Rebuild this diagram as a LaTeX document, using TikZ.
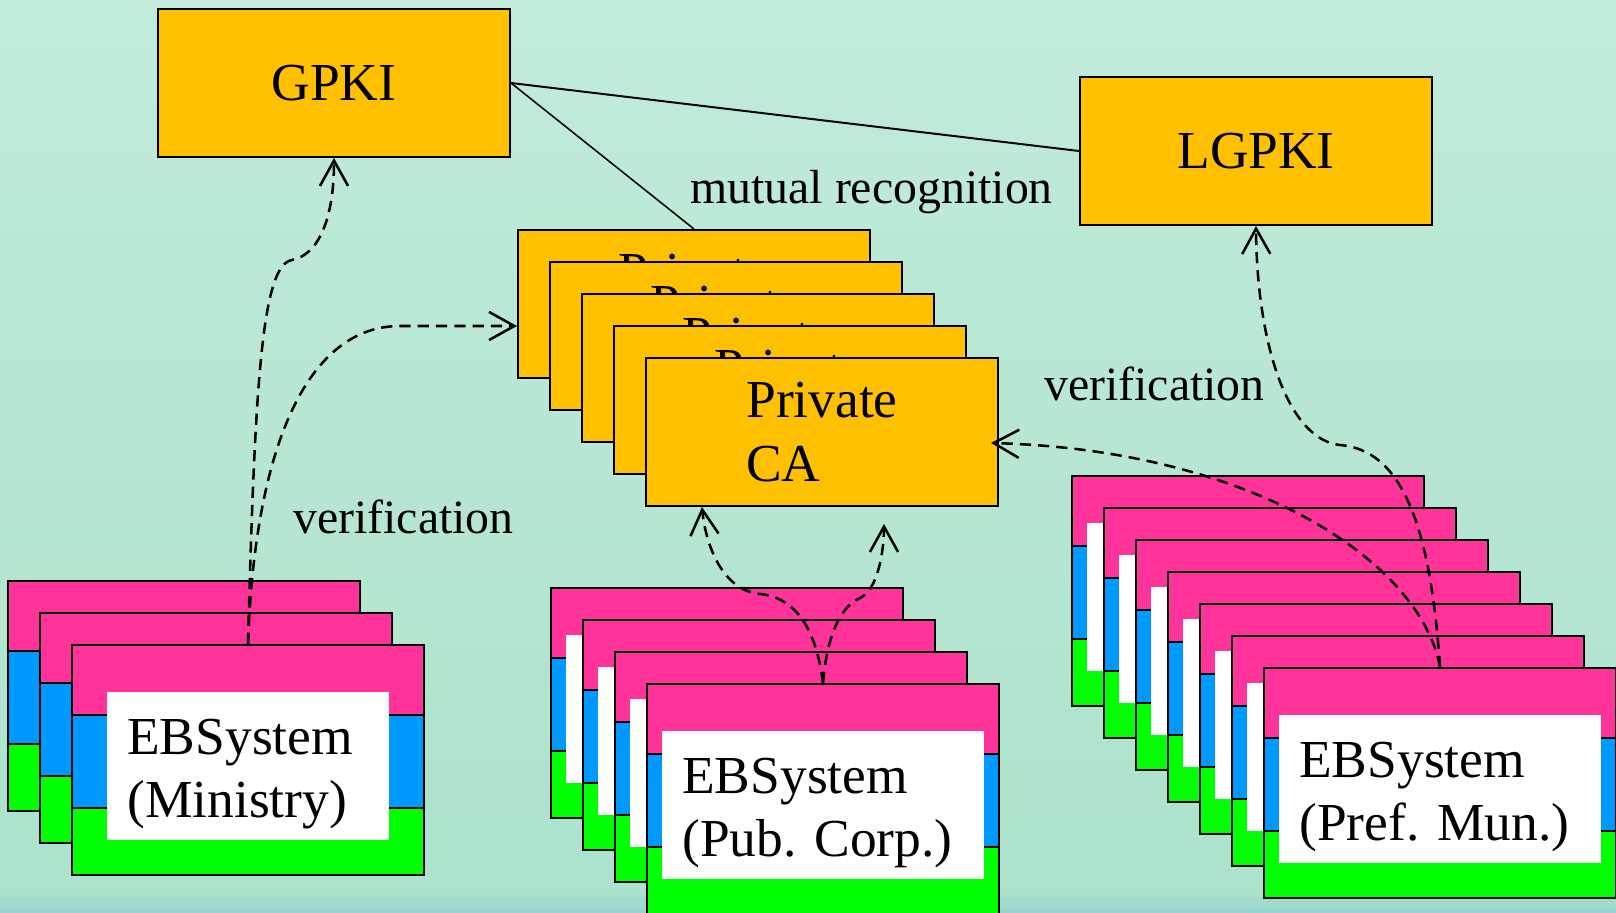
\documentclass[tikz,border=0pt]{standalone}
\usepackage{fontspec}
\setmainfont{Liberation Serif}
\usetikzlibrary{arrows.meta}

\definecolor{pkiorange}{RGB}{255,192,0}
\definecolor{ebpink}{RGB}{255,51,153}
\definecolor{ebblue}{RGB}{0,153,255}
\definecolor{ebgreen}{RGB}{0,255,0}
\definecolor{bgtop}{RGB}{194,235,219}
\definecolor{bgbot}{RGB}{172,226,204}
\definecolor{bgstrip}{RGB}{160,219,205}
\definecolor{bgedge}{RGB}{150,212,207}

% one EB system card: name, x, y (top left), label inset, text
\newcommand{\ebcard}[5]{%
  \fill[ebpink] (#2,#3) rectangle +(352,70);
  \fill[ebblue] (#2,#3+70) rectangle +(352,93);
  \fill[ebgreen] (#2,#3+163) rectangle +(352,67);
  \draw[line width=1.4pt] (#2,#3+70) -- +(352,0) (#2,#3+163) -- +(352,0);
  \fill[white] (#2+#4,#3+47) rectangle (#2+352-#4,#3+195);
  \node[cardtext] (#1t) at (#2+#4+20,#3+129) {#5};
  \node[cardframe] (#1) at (#2+176,#3+115) {};
}

\begin{document}
\begin{tikzpicture}[x=0.025cm,y=-0.025cm,
  pkibox/.style={draw,line width=1.4pt,fill=pkiorange,minimum width=8.8cm,minimum height=3.7cm,
    inner sep=0pt,align=left,font=\fontsize{38}{45}\selectfont},
  cardframe/.style={draw,line width=1.4pt,minimum width=8.8cm,minimum height=5.75cm,inner sep=0pt},
  cardtext/.style={anchor=west,inner sep=0pt,align=left,font=\fontsize{38}{45}\selectfont},
  lbl/.style={anchor=base west,inner sep=0pt,font=\fontsize{34}{40}\selectfont},
  verif/.style={line width=1.8pt,dash pattern=on 8pt off 5pt,-{Straight Barb[length=18pt,width=20pt]}}]
  \useasboundingbox (0,0) rectangle (1616,913);
  % background
  \shade[top color=bgtop,bottom color=bgbot] (0,0) rectangle (1616,913);
  \fill[bgstrip] (0,897) rectangle (1616,909);
  \fill[bgedge] (0,909) rectangle (1616,913);

  % certificate authorities
  \node[pkibox] (gpki) at (334,83) {GPKI};
  \node[pkibox] (lgpki) at (1256,151) {LGPKI};
  \draw[line width=1.4pt] (gpki.east) -- (lgpki.west);
  \foreach \i in {1,...,5}
    \node[pkibox] (ca\i) at ({694+32*(\i-1)},{304+32*(\i-1)}) {Private\\CA};
  \draw[line width=1.1pt] (gpki.east) -- (ca1.north);

  % EB systems
  \foreach \i in {0,1,2}
    \ebcard{min\i}{8+32*\i}{581+32*\i}{35}{EBSystem\\(Ministry)};
  \foreach \i in {0,...,3}
    \ebcard{pub\i}{551+32*\i}{588+32*\i}{15}{EBSystem\\(Pub. Corp.)};
  \foreach \i in {0,...,6}
    \ebcard{pref\i}{1072+32*\i}{476+32*\i}{15}{EBSystem\\(Pref. Mun.)};

  % verification paths
  \draw[verif] (min2.north) .. controls (255,380) and (262,265) .. (292,260)
    .. controls (318,255) and (334,220) .. (gpki.south);
  \draw[verif] (min2.north) .. controls (255,440) and (310,326) .. (400,326)
    -- ([shift={(0,22)}]ca1.west);
  \draw[verif] (pub3.north) .. controls (815,620) and (790,597) .. (760,594)
    .. controls (720,590) and (705,540) .. ([shift={(-120,0)}]ca5.south);
  \draw[verif] (pub3.north) .. controls (828,625) and (845,605) .. (860,598)
    .. controls (878,590) and (884,550) .. ([shift={(62,17)}]ca5.south);
  \draw[verif] (pref6.north) .. controls (1430,520) and (1400,450) .. (1340,445)
    .. controls (1290,440) and (1257,350) .. (lgpki.south);
  \draw[verif] (pref6.north) .. controls (1420,560) and (1250,450) .. ([shift={(-8,11)}]ca5.east);

  \node[lbl] (mutual) at (690,203) {mutual recognition};
  \node[lbl] (verifmin) at (293,533) {verification};
  \node[lbl] (verifpref) at (1044,400) {verification};
\end{tikzpicture}
\end{document}
